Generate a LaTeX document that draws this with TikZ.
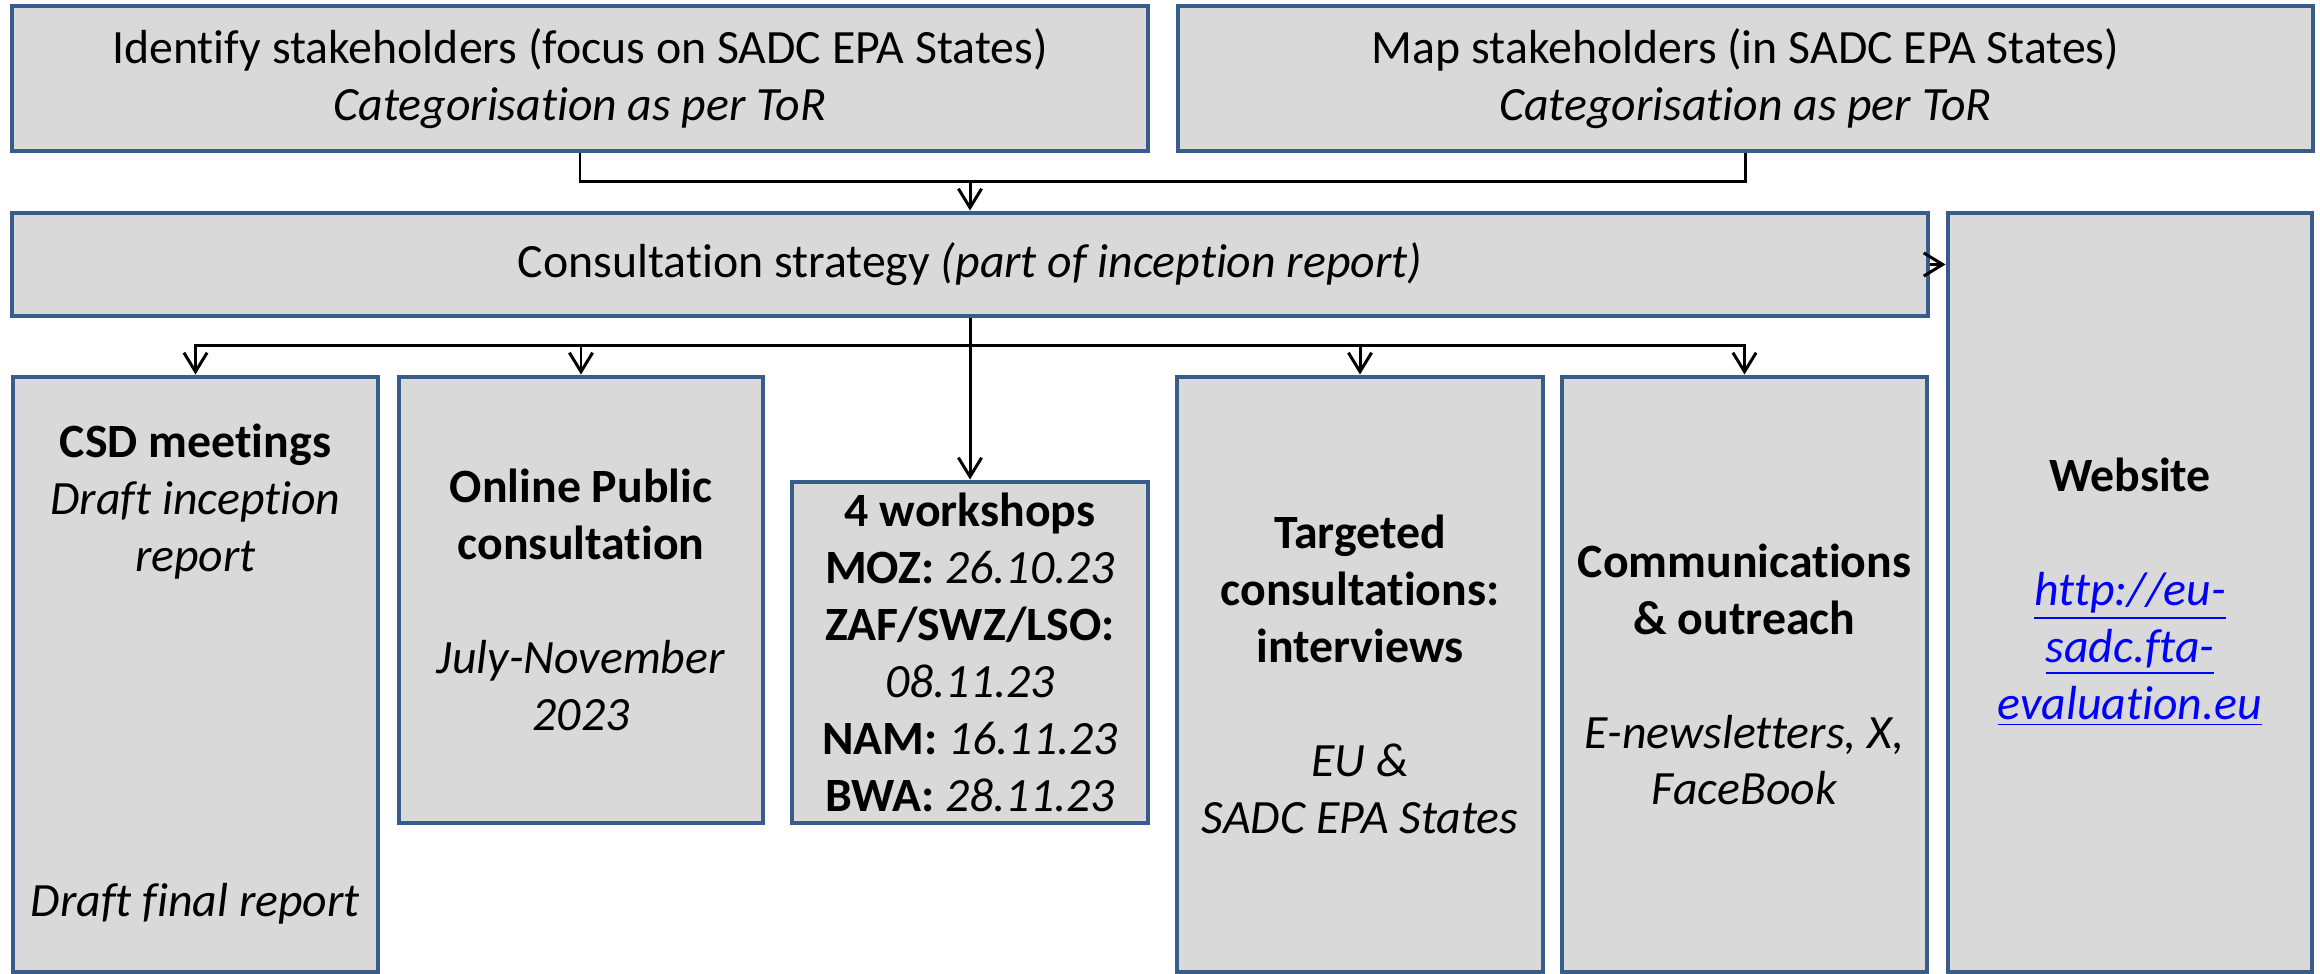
\documentclass[tikz,border=0pt]{standalone}
\usepackage{fontspec}
\setmainfont{Carlito}[Ligatures=NoCommon]
\usepackage{tikz}
\usetikzlibrary{arrows.meta}
\definecolor{boxgray}{HTML}{D9D9D9}
\definecolor{boxblue}{HTML}{385D8A}
\definecolor{linkblue}{HTML}{0000FF}
\tikzstyle{box} = [draw=boxblue, fill=boxgray, line width=1.4pt, align=center, inner sep=0pt, font=\fontsize{13.6}{16.2}\selectfont]
\tikzstyle{link} = [line width=0.85pt, -{Straight Barb[length=5.4pt, width=6.6pt, line width=0.85pt]}]

\begin{document}
\begin{tikzpicture}
    \useasboundingbox (0,0) rectangle (23.20,-9.74);
    \node (ident) [box, minimum width=11.36cm, minimum height=1.45cm] at (5.80,-0.785) {Identify stakeholders (focus on SADC EPA States)\\ \textit{Categorisation as per ToR}};
    \node (mapst) [box, minimum width=11.35cm, minimum height=1.45cm] at (17.455,-0.785) {Map stakeholders (in SADC EPA States)\\ \textit{Categorisation as per ToR}};
    \node (strat) [box, minimum width=19.16cm, minimum height=1.03cm] at (9.70,-2.645) {Consultation strategy \textit{(part of inception report)}};
    \node (csd) [box, minimum width=3.65cm, minimum height=5.95cm] at (1.955,-6.745) {\textbf{CSD meetings}\\ \textit{Draft inception}\\ \textit{report}\\[82pt] \textit{Draft final report}};
    \node (online) [box, minimum width=3.64cm, minimum height=4.46cm] at (5.81,-6.00) {\textbf{Online Public}\\ \textbf{consultation}\\[16.2pt] \textit{July-November}\\ \textit{2023}};
    \node (works) [box, minimum width=3.56cm, minimum height=3.41cm] at (9.70,-6.525) {\textbf{4 workshops}\\ \textbf{MOZ:} \textit{26.10.23}\\ \textbf{ZAF/SWZ/LSO:}\\ \textit{08.11.23}\\ \textbf{NAM:} \textit{16.11.23}\\ \textbf{BWA:} \textit{28.11.23}};
    \node (target) [box, minimum width=3.66cm, minimum height=5.95cm] at (13.60,-6.745) {\textbf{Targeted}\\ \textbf{consultations:}\\ \textbf{interviews}\\[16.2pt] \textit{EU \&}\\ \textit{SADC EPA States}};
    \node (comms) [box, minimum width=3.65cm, minimum height=5.95cm] at (17.445,-6.745) {\textbf{Communications}\\ \textbf{\& outreach}\\[16.2pt] \textit{E-newsletters, X,}\\ \textit{FaceBook}};
    \node (web) [box, minimum width=3.64cm, minimum height=7.59cm] at (21.30,-5.925) {\textbf{Website}\\[16.2pt] \color{linkblue}\textit{\underline{http://eu-}}\\ \color{linkblue}\textit{\underline{sadc.fta-}}\\ \color{linkblue}\textit{\underline{evaluation.eu}}};
    \coordinate (topjoin) at (9.70,-1.82);
    \coordinate (split) at (9.70,-3.46);
    \draw [line width=0.85pt] (ident.south) |- (topjoin) -| (mapst.south);
    \draw [link] (topjoin) -- (strat.north);
    \draw [link] (strat.south) -- (works.north);
    \foreach \n in {csd, online, target, comms}
        \draw [link] (split) -| (\n.north);
    \draw [link] (strat.east) -- (strat.east -| web.west);
\end{tikzpicture}
\end{document}
